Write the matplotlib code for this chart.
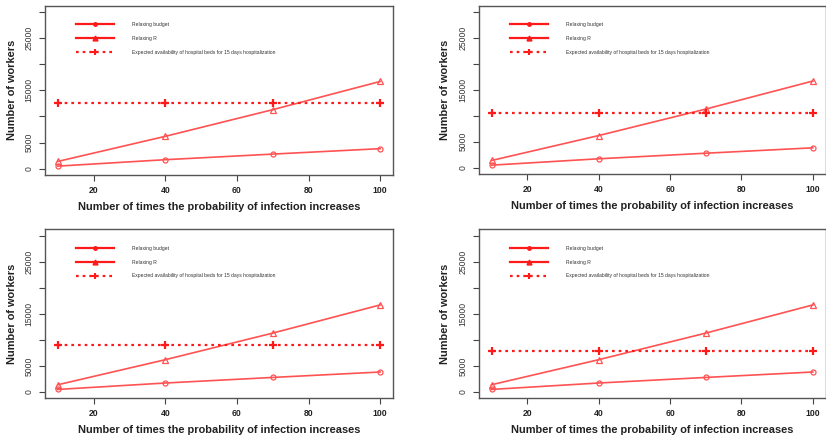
import matplotlib
matplotlib.use('Agg')
import matplotlib.pyplot as plt

plt.rcParams['font.family'] = ['Liberation Sans', 'DejaVu Sans']

# data
times = [10, 40, 70, 100]
relax_budget = [500, 1730, 2800, 3840]
relax_r = [1400, 6200, 11300, 16700]
# expected hospital bed availability, one value per panel (TL, TR, BL, BR)
beds = [12600, 10500, 9000, 7900]

labels = ['Relaxing budget', 'Relaxing R',
          'Expected availability of hospital beds for 15 days hospitalization']
xticks = [20, 40, 60, 80, 100]
yticks = [0, 5000, 10000, 15000, 20000, 25000, 30000]
ytick_labels = ['0', '5000', '', '15000', '', '25000', '']

W, H = 826, 441
fig = plt.figure(figsize=(W / 100, H / 100), dpi=100)

# axes boxes in pixels: left, top, width, height
boxes = [(45, 5.7, 348, 169.3), (478.7, 5.7, 347, 168.3),
         (45, 229.3, 348, 169), (478.7, 229.3, 347, 169)]

line_col = '#ff5252'
bed_col = '#ff1a1a'

for i, (l, t, w, h) in enumerate(boxes):
    ax = fig.add_axes([l / W, 1 - (t + h) / H, w / W, h / H])
    ax.plot(times, relax_budget, color=line_col, lw=1.2, marker='o', ms=3.6,
            mfc='none', mec=line_col, mew=0.9)
    ax.plot(times, relax_r, color=line_col, lw=1.2, marker='^', ms=5,
            mfc='none', mec=line_col, mew=0.9)
    ax.plot(times, [beds[i]] * len(times), color=bed_col, lw=1.6,
            ls=(0, (1.2, 1.8)), marker='+', ms=6, mew=1.6)

    ax.set_xlim(6.4, 103.6)
    ax.set_ylim(-1200, 31200)
    ax.set_xticks(xticks)
    ax.set_xticklabels([str(v) for v in xticks], fontsize=6.2, fontweight='bold',
                       color='#222222')
    ax.set_yticks(yticks)
    ax.set_yticklabels(ytick_labels, fontsize=6.2, rotation=90, va='center',
                       color='#333333')
    ax.tick_params(axis='both', direction='out', length=4, width=0.8,
                   color='#444444', pad=4)
    for s in ax.spines.values():
        s.set_color('#555555')
        s.set_linewidth(1.0)

    ax.set_xlabel('Number of times the probability of infection increases',
                  fontsize=7.9, fontweight='bold', color='#222222', labelpad=5)
    ax.set_ylabel('Number of workers', fontsize=7.9, fontweight='bold',
                  color='#222222', labelpad=6)

    # legend with filled markers like the R legend
    h1, = ax.plot([], [], color=bed_col, lw=1.6, marker='o', ms=2.5)
    h2, = ax.plot([], [], color=bed_col, lw=1.6, marker='^', ms=3.5)
    h3, = ax.plot([], [], color=bed_col, lw=1.6, ls=(0, (1.2, 1.8)),
                  marker='+', ms=5, mew=1.5)
    ax.legend([h1, h2, h3], labels, loc='upper left',
              bbox_to_anchor=(31 / w, 1 - 16.5 / h), frameon=False,
              fontsize=3.6, handlelength=7.6, handletextpad=3.7,
              labelspacing=1.75, borderpad=0, borderaxespad=0,
              labelcolor='#333333')

fig.savefig('out.png', dpi=100)
